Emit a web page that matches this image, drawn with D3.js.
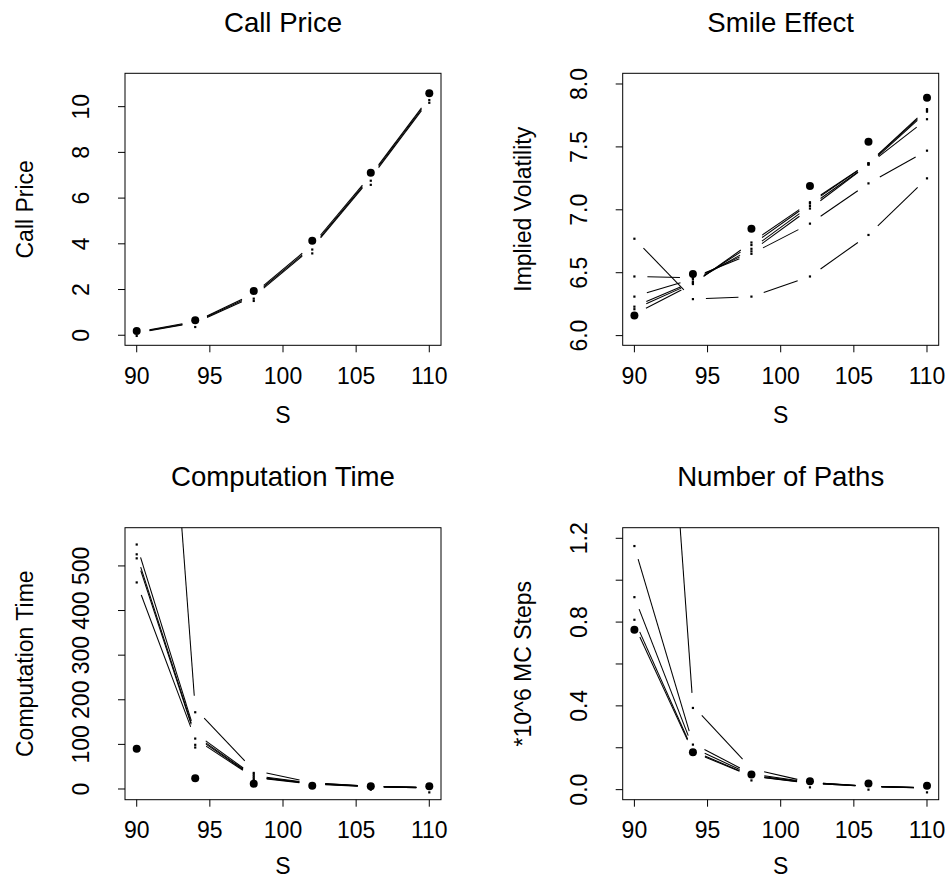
<!DOCTYPE html>
<html>
<head>
<meta charset="utf-8">
<script src="https://cdn.jsdelivr.net/npm/d3@7"></script>
<style>
  body { margin: 0; background: #fff; }
  svg { display: block; }
  text { font-family: "Liberation Sans", Arial, Helvetica, sans-serif; fill: #000; }
</style>
</head>
<body>
<svg id="chart" width="950" height="879"></svg>
<script>
// Spot prices S at which every method was evaluated
const spots = [90, 94, 98, 102, 106, 110];
const xTicks = [90, 95, 100, 105, 110];

// ---- Call Price ----
const callRef = [0.19, 0.66, 1.94, 4.13, 7.11, 10.59];
const callLines = [
  [0.14, 0.60, 1.82, 3.95, 7.00, 10.40],
  [0.12, 0.57, 1.76, 3.88, 6.94, 10.34],
  [0.10, 0.54, 1.70, 3.82, 6.88, 10.28]
];
const callDots = [
  [-0.03, 0.36, 1.60, 3.75, 6.76, 10.29],
  [null, null, 1.50, 3.58, 6.58, 10.17]
];
const callTicks = [0, 2, 4, 6, 8, 10];

// ---- Smile Effect (implied volatility) ----
const smileRef = [6.16, 6.49, 6.85, 7.19, 7.54, 7.89];
const smileLines = [
  [6.77, 6.29, 6.31, 6.47, 6.80, 7.25],
  [6.47, 6.46, 6.65, 6.89, 7.21, 7.47],
  [6.31, 6.45, 6.67, 7.01, 7.36, 7.72],
  [6.23, 6.43, 6.69, 7.03, 7.36, 7.78],
  [6.21, 6.42, 6.72, 7.05, 7.37, 7.79],
  [6.17, 6.41, 6.74, 7.06, 7.37, 7.80]
];
const smileTicks = [6.0, 6.5, 7.0, 7.5, 8.0];

// ---- Computation Time ----
const timeRef = [90, 24, 12, 7.4, 6, 6];
const timeLines = [
  [1950, 180, 42, 14, 6, 3],
  [547, 125, 30, 13, 6, 3],
  [525, 120, 28, 12, 6, 3],
  [517, 117, 27, 12, 5, 2.5],
  [462, 112, 26, 11, 5, 2.5]
];
const timeDots = [
  [548, 172, 36, null, -1.6, -7.6],
  [526, 113, 32, null, null, null],
  [517, 99, 28, null, null, null],
  [463, 93, 24, null, null, null],
  [null, null, 20, null, null, null],
  [null, null, 17, null, null, null]
];
const timeTicks = [0, 100, 200, 300, 400, 500];

// ---- Number of Paths ----
const pathRef = [0.763, 0.178, 0.072, 0.040, 0.029, 0.019];
const pathLines = [
  [4.3, 0.40, 0.10, 0.035, 0.016, 0.009],
  [1.16, 0.22, 0.075, 0.035, 0.017, 0.009],
  [0.92, 0.20, 0.070, 0.033, 0.016, 0.008],
  [0.81, 0.185, 0.066, 0.031, 0.015, 0.008],
  [0.785, 0.18, 0.064, 0.030, 0.015, 0.007]
];
const pathDots = [
  [1.163, 0.39, 0.044, 0.011, 0.0, -0.013],
  [0.919, 0.215, null, null, null, null],
  [0.811, null, null, null, null, null]
];
const pathTicks = [0.0, 0.2, 0.4, 0.6, 0.8, 1.0, 1.2];
const pathLabels = [0.0, 0.4, 0.8, 1.2];

const panels = [
  { title: "Call Price", ylab: "Call Price", left: 125, top: 73.3,
    ylim: [-0.44, 11.46], ref: callRef, lines: callLines, dots: callDots,
    ticks: callTicks, labels: callTicks, fmt: d3.format("d") },
  { title: "Smile Effect", ylab: "Implied Volatility", left: 622.7, top: 73.3,
    ylim: [5.923, 8.085], ref: smileRef, lines: smileLines, dots: smileLines,
    ticks: smileTicks, labels: smileTicks, fmt: d3.format(".1f") },
  { title: "Computation Time", ylab: "Computation Time", left: 125, top: 527.7,
    ylim: [-24, 585.7], ref: timeRef, lines: timeLines, dots: timeDots,
    ticks: timeTicks, labels: timeTicks, fmt: d3.format("d") },
  { title: "Number of Paths", ylab: "*10^6 MC Steps", left: 622.7, top: 527.7,
    ylim: [-0.048, 1.2506], ref: pathRef, lines: pathLines, dots: pathDots,
    ticks: pathTicks, labels: pathLabels, fmt: d3.format(".1f") }
];

const W = 316, H = 272;
const GAP = 13;          // blank space left around each point on connecting segments
const BASE = 23, MAIN = 27.6;
const PAGE_H = 879;

const svg = d3.select("#chart");

panels.forEach((p, i) => {
  const x = d3.scaleLinear().domain([89.2, 110.8]).range([p.left, p.left + W]);
  const y = d3.scaleLinear().domain(p.ylim).range([p.top + H, p.top]);
  const g = svg.append("g");
  const bottom = p.top + H, cx = p.left + W / 2, cy = p.top + H / 2;

  const clipId = "clip" + i;
  svg.append("clipPath").attr("id", clipId)
    .append("rect").attr("x", p.left).attr("y", p.top).attr("width", W).attr("height", H);

  const plot = g.append("g").attr("clip-path", `url(#${clipId})`);

  // connecting segments, broken around each point
  p.lines.forEach(series => {
    for (let k = 0; k < spots.length - 1; k++) {
      const x0 = x(spots[k]), y0 = y(series[k]);
      const x1 = x(spots[k + 1]), y1 = y(series[k + 1]);
      const dx = x1 - x0, dy = y1 - y0, len = Math.hypot(dx, dy);
      if (len <= 2 * GAP) continue;
      const ux = dx / len * GAP, uy = dy / len * GAP;
      plot.append("line")
        .attr("x1", x0 + ux).attr("y1", y0 + uy)
        .attr("x2", x1 - ux).attr("y2", y1 - uy)
        .attr("stroke", "#000").attr("stroke-width", 1.05);
    }
  });

  // small point markers
  p.dots.forEach(series => {
    series.forEach((v, k) => {
      if (v === null) return;
      plot.append("rect")
        .attr("x", x(spots[k]) - 1.1).attr("y", y(v) - 1.1)
        .attr("width", 2.2).attr("height", 2.2).attr("fill", "#000");
    });
  });

  // reference values
  plot.selectAll("circle.ref").data(p.ref).join("circle")
    .attr("cx", (d, k) => x(spots[k])).attr("cy", d => y(d))
    .attr("r", 4).attr("fill", "#000");

  // frame
  g.append("rect").attr("x", p.left).attr("y", p.top).attr("width", W).attr("height", H)
    .attr("fill", "none").attr("stroke", "#000").attr("stroke-width", 1);

  // x axis
  const xa = g.append("g");
  xTicks.forEach(t => {
    xa.append("line").attr("x1", x(t)).attr("x2", x(t))
      .attr("y1", bottom).attr("y2", bottom + 7).attr("stroke", "#000");
    xa.append("text").attr("x", x(t)).attr("y", bottom + 38.3)
      .attr("text-anchor", "middle").attr("font-size", BASE).text(t);
  });
  // axis title, kept clear of the page's lower edge
  g.append("text").attr("x", cx).attr("y", Math.min(bottom + 78, PAGE_H - 5.5))
    .attr("text-anchor", "middle").attr("font-size", BASE).text("S");

  // y axis
  const ya = g.append("g");
  p.ticks.forEach(t => {
    ya.append("line").attr("x1", p.left - 7).attr("x2", p.left)
      .attr("y1", y(t)).attr("y2", y(t)).attr("stroke", "#000");
  });
  p.labels.forEach(t => {
    ya.append("text")
      .attr("transform", `translate(${p.left - 36},${y(t)}) rotate(-90)`)
      .attr("text-anchor", "middle").attr("font-size", BASE).text(p.fmt(t));
  });
  g.append("text")
    .attr("transform", `translate(${p.left - 92},${cy}) rotate(-90)`)
    .attr("text-anchor", "middle").attr("font-size", BASE).text(p.ylab);

  // title
  g.append("text").attr("x", cx).attr("y", p.top - 41.6)
    .attr("text-anchor", "middle").attr("font-size", MAIN).text(p.title);
});
</script>
</body>
</html>
